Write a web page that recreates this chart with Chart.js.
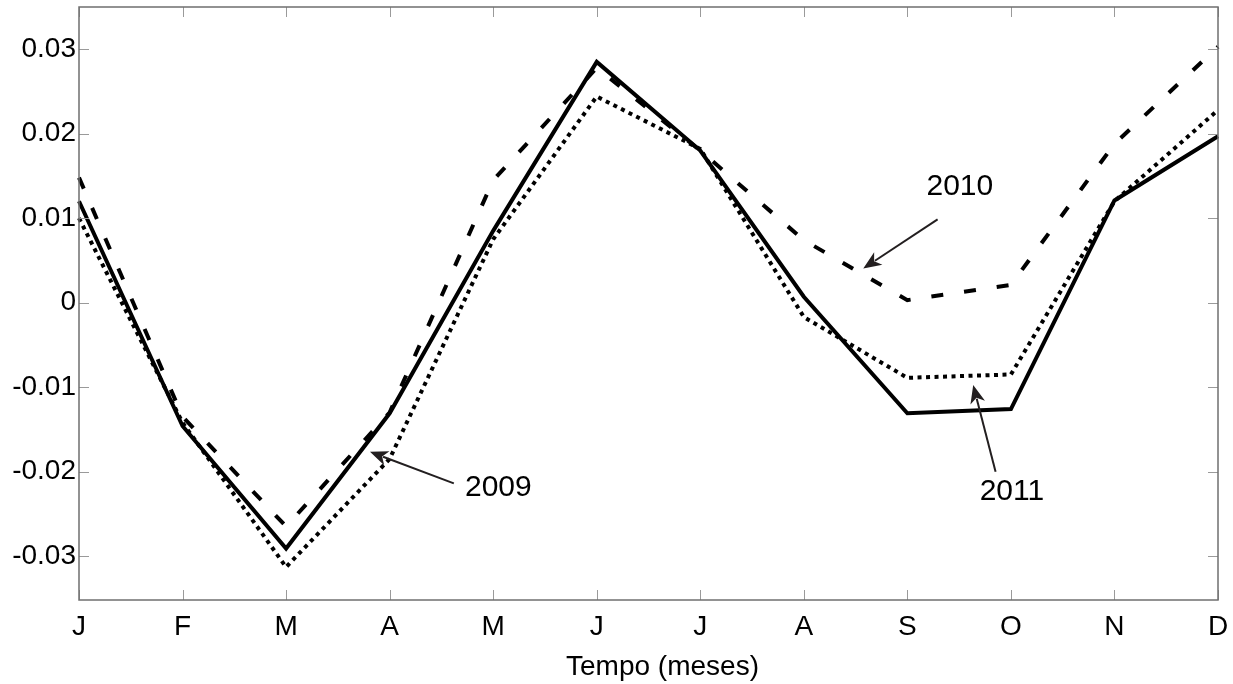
<!DOCTYPE html>
<html>
<head>
<meta charset="utf-8">
<script src="https://cdn.jsdelivr.net/npm/chart.js@4/dist/chart.umd.min.js"></script>
<style>
  html, body { margin: 0; padding: 0; background: #ffffff; }
  #wrap { width: 1233px; height: 684px; }
</style>
</head>
<body>
<div id="wrap"><canvas id="c" width="1233" height="684"></canvas></div>
<script>
// Month initials along the x axis
const months = ['J', 'F', 'M', 'A', 'M', 'J', 'J', 'A', 'S', 'O', 'N', 'D'];

// Monthly values per year
const y2009 = [0.0120, -0.0146, -0.0291, -0.0131, 0.0085, 0.0285, 0.0180, 0.0007, -0.0131, -0.0126, 0.0121, 0.0197];
const y2010 = [0.0148, -0.0135, -0.0265, -0.0130, 0.0145, 0.0278, 0.0180, 0.0074, 0.0003, 0.0021, 0.0188, 0.0303];
const y2011 = [0.0100, -0.0142, -0.0313, -0.0185, 0.0075, 0.0244, 0.0182, -0.0017, -0.0089, -0.0085, 0.0120, 0.0228];

// Y axis ticks and their printed labels
const yTickValues = [-0.03, -0.02, -0.01, 0, 0.01, 0.02, 0.03];
const yTickLabels = ['-0.03', '-0.02', '-0.01', '0', '0.01', '0.02', '0.03'];

// Axis caption
const xAxisTitle = 'Tempo (meses)';

// Callouts: label, text anchor, arrow tail and arrow tip, in (month index, value)
const callouts = [
  { text: '2009', at: [4.05, -0.02195], from: [3.62, -0.0214], to: [2.81, -0.01766] },
  { text: '2010', at: [8.507, 0.01367], from: [8.292, 0.00985], to: [7.574, 0.00405] },
  { text: '2011', at: [9.01, -0.02243], from: [8.852, -0.02002], to: [8.636, -0.00976] }
];

const FONT = '"Liberation Sans", Arial, Helvetica, sans-serif';

// Box around the plot and inward-pointing tick marks on all four sides
const frameTicks = {
  id: 'frameTicks',
  afterDraw(chart) {
    const { ctx, chartArea: a, scales: { x, y } } = chart;
    const len = 10;
    ctx.save();
    ctx.lineWidth = 1;
    ctx.strokeStyle = '#9a9a9a';
    ctx.beginPath();
    x.ticks.forEach((t, i) => {
      const px = Math.round(x.getPixelForTick(i)) + 0.5;
      ctx.moveTo(px, a.bottom); ctx.lineTo(px, a.bottom - len);
      ctx.moveTo(px, a.top); ctx.lineTo(px, a.top + len);
    });
    y.ticks.forEach((t, i) => {
      const py = Math.round(y.getPixelForTick(i)) + 0.5;
      ctx.moveTo(a.left, py); ctx.lineTo(a.left + len, py);
      ctx.moveTo(a.right, py); ctx.lineTo(a.right - len, py);
    });
    ctx.stroke();
    ctx.strokeStyle = '#6f6f6f';
    ctx.lineWidth = 1.5;
    ctx.strokeRect(a.left, a.top, a.right - a.left, a.bottom - a.top);

    // caption under the month labels, a little right of the plot centre
    ctx.fillStyle = '#000000';
    ctx.font = '28px ' + FONT;
    ctx.textAlign = 'center';
    ctx.textBaseline = 'middle';
    ctx.fillText(xAxisTitle, (a.left + a.right) / 2 + 14, x.bottom - 17);
    ctx.restore();
  }
};

// Year labels with arrows pointing at their curves
const yearCallouts = {
  id: 'yearCallouts',
  afterDatasetsDraw(chart) {
    const { ctx, scales: { x, y } } = chart;
    const P = (p) => [x.getPixelForValue(p[0]), y.getPixelForValue(p[1])];
    ctx.save();
    callouts.forEach(c => {
      const [tx, ty] = P(c.from);
      const [hx, hy] = P(c.to);
      const ang = Math.atan2(hy - ty, hx - tx);
      const hl = 18, hw = 7.5;
      const bx = hx - hl * Math.cos(ang), by = hy - hl * Math.sin(ang);
      ctx.strokeStyle = '#231f20';
      ctx.fillStyle = '#231f20';
      ctx.lineWidth = 2;
      ctx.beginPath();
      ctx.moveTo(tx, ty);
      ctx.lineTo(bx + 4 * Math.cos(ang), by + 4 * Math.sin(ang));
      ctx.stroke();
      ctx.beginPath();
      ctx.moveTo(hx, hy);
      ctx.lineTo(bx - hw * Math.sin(ang), by + hw * Math.cos(ang));
      ctx.lineTo(bx + 5 * Math.cos(ang), by + 5 * Math.sin(ang));
      ctx.lineTo(bx + hw * Math.sin(ang), by - hw * Math.cos(ang));
      ctx.closePath();
      ctx.fill();
      const [lx, ly] = P(c.at);
      ctx.fillStyle = '#000000';
      ctx.font = '30px ' + FONT;
      ctx.textAlign = 'center';
      ctx.textBaseline = 'middle';
      ctx.fillText(c.text, lx, ly);
    });
    ctx.restore();
  }
};

const lineStyle = {
  borderColor: '#000000',
  borderWidth: 4,
  pointRadius: 0,
  fill: false,
  tension: 0,
  borderJoinStyle: 'miter',
  borderCapStyle: 'butt'
};

new Chart(document.getElementById('c'), {
  type: 'line',
  data: {
    labels: months,
    datasets: [
      Object.assign({ label: '2009', data: y2009 }, lineStyle),
      Object.assign({ label: '2010', data: y2010, borderDash: [12, 21] }, lineStyle),
      Object.assign({ label: '2011', data: y2011, borderDash: [4, 4.5] }, lineStyle)
    ]
  },
  options: {
    responsive: false,
    animation: false,
    devicePixelRatio: 1,
    layout: { padding: { left: 0, right: 15, top: 7, bottom: 0 } },
    plugins: { legend: { display: false }, tooltip: { enabled: false } },
    scales: {
      x: {
        type: 'category',
        offset: false,
        grid: { display: false, drawTicks: false },
        border: { display: false },
        ticks: {
          color: '#000000',
          font: { family: FONT, size: 28 },
          padding: 10,
          maxRotation: 0,
          autoSkip: false
        },
        title: { display: false },
        afterFit(scale) {
          scale.height = 84;
          scale.paddingLeft = 0;
          scale.paddingRight = 0;
        }
      },
      y: {
        min: -0.0352,
        max: 0.035,
        grid: { display: false, drawTicks: false },
        border: { display: false },
        afterBuildTicks(scale) {
          scale.ticks = yTickValues.map(v => ({ value: v }));
        },
        ticks: {
          color: '#000000',
          font: { family: FONT, size: 28 },
          padding: 3,
          callback(value) {
            const i = yTickValues.findIndex(v => Math.abs(v - value) < 1e-9);
            return i >= 0 ? yTickLabels[i] : '';
          }
        },
        afterFit(scale) {
          scale.width = 79;
          scale.paddingTop = 0;
          scale.paddingBottom = 0;
        }
      }
    }
  },
  plugins: [frameTicks, yearCallouts]
});
</script>
</body>
</html>
